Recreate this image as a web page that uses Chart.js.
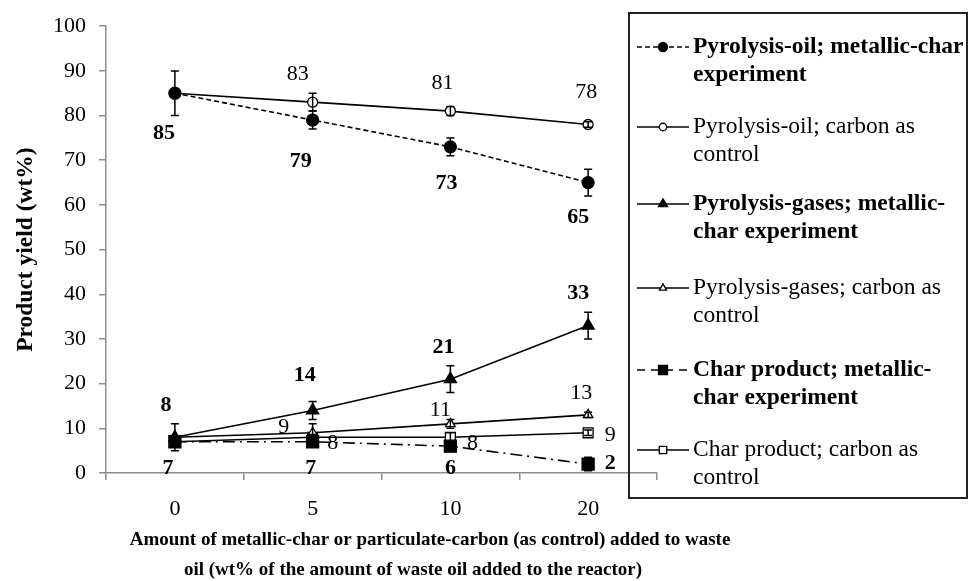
<!DOCTYPE html>
<html><head><meta charset="utf-8">
<script src="https://cdn.jsdelivr.net/npm/chart.js@4.4.0/dist/chart.umd.min.js"></script>
<style>html,body{margin:0;padding:0;background:#fff;}#wrap{position:relative;width:970px;height:581px;}</style>
</head><body><div id="wrap"><canvas id="c" width="970" height="581"></canvas></div>
<script>
const categories = ['0', '5', '10', '20'];

const oilMetallic = [85, 79, 73, 65];
const oilMetallicErr = [5, 2, 2, 3];
const oilMetallicLabels = ['85', '79', '73', '65'];

const oilCarbon = [85, 83, 81, 78];
const oilCarbonErr = [0, 2, 1, 0.6];
const oilCarbonLabels = [null, '83', '81', '78'];

const gasMetallic = [8, 14, 21, 33];
const gasMetallicErr = [3, 2, 3, 3];
const gasMetallicLabels = ['8', '14', '21', '33'];

const gasCarbon = [8, 9, 11, 13];
const gasCarbonErr = [0, 2, 1, 0.6];
const gasCarbonLabels = [null, '9', '11', '13'];

const charMetallic = [7, 7, 6, 2];
const charMetallicErr = [1, 1, 1, 1.5];
const charMetallicLabels = ['7', '7', '6', '2'];

const charCarbon = [7, 8, 8, 9];
const charCarbonErr = [0, 0.6, 1, 0.6];
const charCarbonLabels = [null, '8', '8', '9'];

const seriesNames = [
  ['Pyrolysis-oil; metallic-char', 'experiment'],
  ['Pyrolysis-oil; carbon as', 'control'],
  ['Pyrolysis-gases; metallic-', 'char experiment'],
  ['Pyrolysis-gases; carbon as', 'control'],
  ['Char product; metallic-', 'char experiment'],
  ['Char product; carbon as', 'control']
];
const yTitle = 'Product yield (wt%)';
const xTitle = ['Amount of metallic-char or particulate-carbon (as control) added to waste',
                'oil (wt% of the amount of waste oil added to the reactor)'];

const FONT = "'Liberation Serif', 'Times New Roman', serif";

function ds(name, data, err, labels, opt) {
  return Object.assign({
    label: name.join(' '), legendLines: name, data, err, valueLabels: labels,
    borderColor: '#000', borderWidth: 1.6, pointBorderColor: '#000',
    pointBorderWidth: 1.3, fill: false, tension: 0
  }, opt);
}

const datasets = [
  ds(seriesNames[0], oilMetallic, oilMetallicErr, oilMetallicLabels,
     {borderDash: [5, 3], pointStyle: 'circle', pointRadius: 6, pointBackgroundColor: '#000', bold: true, lblOff: [[-11, 40], [-12, 41], [-4, 36], [-10, 35]]}),
  ds(seriesNames[1], oilCarbon, oilCarbonErr, oilCarbonLabels,
     {pointStyle: 'circle', pointRadius: 5, pointBackgroundColor: '#fff', bold: false, lblOff: [[0, 0], [-15, -28], [-8, -28], [-2, -32]]}),
  ds(seriesNames[2], gasMetallic, gasMetallicErr, gasMetallicLabels,
     {pointStyle: 'triangle', pointRadius: 7, pointBackgroundColor: '#000', bold: true, lblOff: [[-9, -32], [-8, -35], [-7, -32], [-10, -32]]}),
  ds(seriesNames[3], gasCarbon, gasCarbonErr, gasCarbonLabels,
     {pointStyle: 'triangle', pointRadius: 5.5, pointBackgroundColor: '#fff', bold: false, lblOff: [[0, 0], [-29, -6], [-10, -14], [-7, -22]]}),
  ds(seriesNames[4], charMetallic, charMetallicErr, charMetallicLabels,
     {borderDash: [12, 5, 2, 5], pointStyle: 'rect', pointRadius: 8.5, pointBackgroundColor: '#000', bold: true, lblOff: [[-7, 27], [-2, 27], [0, 22], [22, -1]], legendDash: [8, 6]}),
  ds(seriesNames[5], charCarbon, charCarbonErr, charCarbonLabels,
     {pointStyle: 'rect', pointRadius: 7, pointBackgroundColor: '#fff', bold: false, lblOff: [[0, 0], [20, 6], [22, 6], [22, 2]]})
];

const errorBarPlugin = {
  id: 'errorBars',
  afterDatasetsDraw(chart) {
    const ctx = chart.ctx, ys = chart.scales.y;
    ctx.save();
    ctx.strokeStyle = '#000'; ctx.lineWidth = 1.5; ctx.setLineDash([]);
    chart.data.datasets.forEach((d, i) => {
      const meta = chart.getDatasetMeta(i);
      meta.data.forEach((pt, j) => {
        const e = d.err[j];
        if (!e) return;
        const y1 = ys.getPixelForValue(d.data[j] + e), y2 = ys.getPixelForValue(d.data[j] - e);
        const x = pt.x;
        ctx.beginPath();
        ctx.moveTo(x, y1); ctx.lineTo(x, y2);
        ctx.moveTo(x - 4, y1); ctx.lineTo(x + 4, y1);
        ctx.moveTo(x - 4, y2); ctx.lineTo(x + 4, y2);
        ctx.stroke();
      });
    });
    ctx.restore();
  }
};

const valueLabelPlugin = {
  id: 'valueLabels',
  afterDatasetsDraw(chart) {
    const ctx = chart.ctx;
    ctx.save();
    ctx.fillStyle = '#000'; ctx.textAlign = 'center'; ctx.textBaseline = 'middle';
    chart.data.datasets.forEach((d, i) => {
      const meta = chart.getDatasetMeta(i);
      ctx.font = (d.bold ? 'bold ' : '') + '22px ' + FONT;
      meta.data.forEach((pt, j) => {
        const t = d.valueLabels[j];
        if (t == null) return;
        const o = d.lblOff[j];
        ctx.fillText(t, pt.x + o[0], pt.y + o[1]);
      });
    });
    ctx.restore();
  }
};

const legendRowY = [47, 127, 204, 288, 370, 450];
const legendPlugin = {
  id: 'boxLegend',
  afterDraw(chart) {
    const ctx = chart.ctx;
    ctx.save();
    ctx.strokeStyle = '#222'; ctx.lineWidth = 2; ctx.setLineDash([]);
    ctx.strokeRect(629, 13, 338, 485);
    chart.data.datasets.forEach((d, i) => {
      const y = legendRowY[i];
      ctx.beginPath();
      ctx.setLineDash(d.legendDash || d.borderDash || []);
      ctx.lineWidth = d.borderWidth; ctx.strokeStyle = '#000';
      ctx.moveTo(637, y); ctx.lineTo(689, y); ctx.stroke();
      ctx.setLineDash([]);
      ctx.fillStyle = d.pointBackgroundColor; ctx.strokeStyle = '#000'; ctx.lineWidth = 1.3;
      Chart.helpers.drawPoint(ctx, {pointStyle: d.pointStyle, radius: d.pointRadius * 0.75, borderWidth: 1.3, rotation: 0}, 663, y);
      ctx.fillStyle = '#000'; ctx.textAlign = 'left'; ctx.textBaseline = 'middle';
      ctx.font = (d.bold ? 'bold ' : '') + '23.5px ' + FONT;
      d.legendLines.forEach((ln, k) => ctx.fillText(ln, 693, y + k * 28));
    });
    ctx.restore();
  }
};

const xTitlePlugin = {
  id: 'xTitle',
  afterDraw(chart) {
    const ctx = chart.ctx;
    ctx.save();
    ctx.fillStyle = '#000'; ctx.textAlign = 'center'; ctx.textBaseline = 'middle';
    ctx.font = 'bold 19px ' + FONT;
    ctx.fillText(xTitle[0], 430, 540);
    ctx.fillText(xTitle[1], 413, 570);
    ctx.restore();
  }
};

new Chart(document.getElementById('c'), {
  type: 'line',
  data: {labels: categories, datasets},
  options: {
    responsive: false, animation: false, devicePixelRatio: 1,
    layout: {padding: {top: 23, right: 313, left: 0, bottom: 0}},
    plugins: {legend: {display: false}, tooltip: {enabled: false}},
    scales: {
      x: {
        type: 'category', offset: true,
        grid: {offset: true, drawOnChartArea: false, drawTicks: true, tickLength: 7, color: '#8c8c8c', lineWidth: 1.5},
        border: {color: '#8c8c8c', width: 1.5},
        ticks: {font: {family: FONT, size: 22}, color: '#000', padding: 16},
        afterFit(s) { s.height = 108; }
      },
      y: {
        min: 0, max: 100,
        ticks: {stepSize: 10, font: {family: FONT, size: 22}, color: '#000', padding: 13},
        grid: {drawOnChartArea: false, drawTicks: true, tickLength: 7, color: '#8c8c8c', lineWidth: 1.5},
        border: {color: '#8c8c8c', width: 1.5},
        title: {display: true, text: yTitle, font: {family: FONT, size: 23.5, weight: 'bold'}, color: '#000', padding: {top: 12, bottom: 0}},
        afterFit(s) { s.width = 106; }
      }
    }
  },
  plugins: [errorBarPlugin, valueLabelPlugin, legendPlugin, xTitlePlugin]
});
</script></body></html>
